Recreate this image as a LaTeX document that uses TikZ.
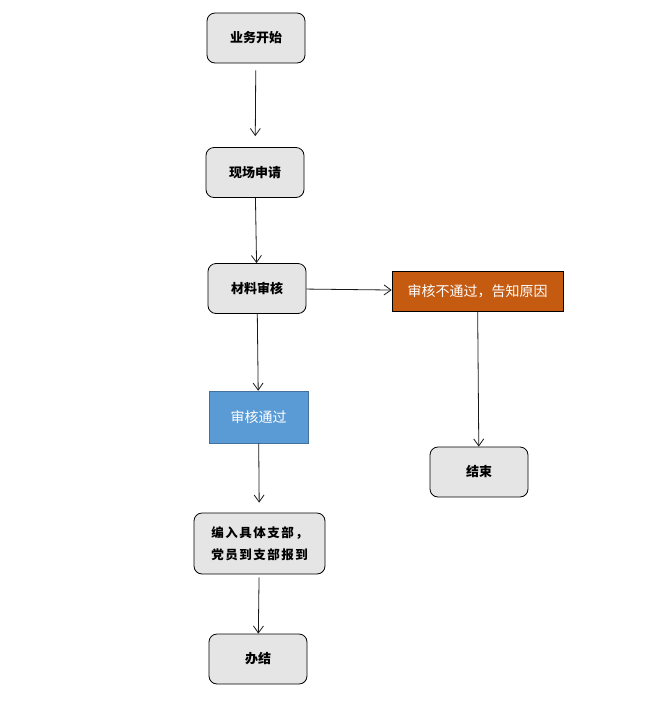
\documentclass[tikz,border=0pt]{standalone}
\usepackage{fontspec}
\setmainfont{Noto Sans CJK SC}
\usetikzlibrary{arrows.meta}
\begin{document}
\begin{tikzpicture}[x=1pt, y=-1pt, >={Straight Barb[length=7pt,width=10pt]}]
      \tikzstyle{step box}=[draw=black, line width=0.8pt, fill=gray!20, rounded corners=8pt, minimum width=98pt, minimum height=50pt, font=\fontsize{13pt}{20pt}\selectfont\bfseries, align=center]
      \tikzstyle{fail box}=[draw=black, line width=0.6pt, fill={rgb,255:red,197;green,90;blue,17}, text=white, minimum width=171pt, minimum height=40pt, font=\fontsize{14pt}{18pt}\selectfont]
      \tikzstyle{pass box}=[draw={rgb,255:red,65;green,113;blue,156}, line width=0.6pt, fill={rgb,255:red,91;green,155;blue,213}, text=white, minimum width=99pt, minimum height=52pt, font=\fontsize{14pt}{18pt}\selectfont]
      \tikzstyle{link}=[->, line width=0.8pt, draw=black!90]
      \useasboundingbox (0,0) rectangle (659,702);
      \node[step box] (start) at (256,38) {业务开始};
      \node[step box] (apply) at (255,172.5) {现场申请};
      \node[step box] (check) at (257,288.5) {材料审核};
      \node[fail box] (fail) at (477.5,291) {审核不通过，告知原因};
      \node[pass box] (pass) at (258.5,417) {审核通过};
      \node[step box] (stop) at (479,472) {结束};
      \node[step box, minimum width=131pt, minimum height=61pt, font=\fontsize{12.5pt}{22pt}\selectfont\bfseries\addfontfeatures{LetterSpace=12}] (branch) at (259.5,543.5) {编入具体支部，\\党员到支部报到};
      \node[step box] (done) at (258,659) {办结};
      \draw[link, shorten <=7pt, shorten >=11pt] (start) -- (apply);
      \draw[link] (apply) -- (check);
      \draw[link] (check) -- (fail);
      \draw[link] (check) -- (pass);
      \draw[link] (fail) -- (stop);
      \draw[link, shorten >=10pt] (pass) -- (branch);
      \draw[link, shorten <=3pt] (branch) -- (done);
    \end{tikzpicture}
\end{document}
